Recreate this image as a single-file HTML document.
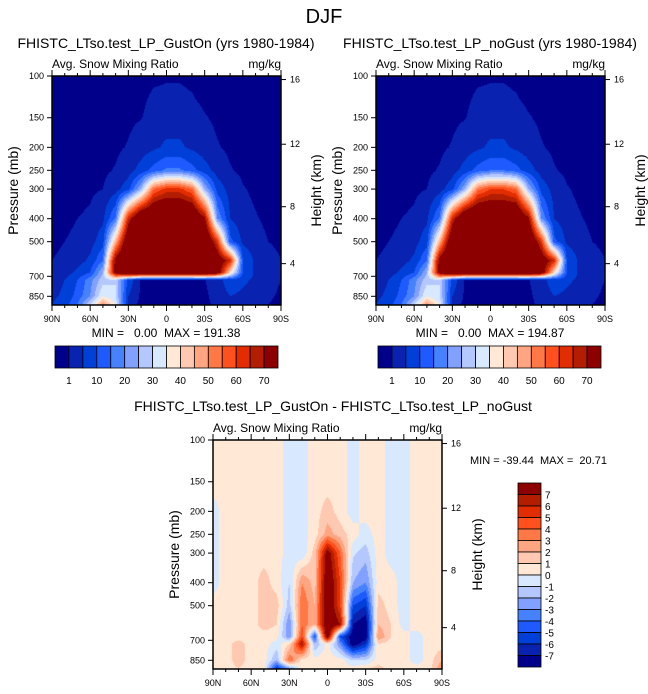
<!DOCTYPE html>
<html><head><meta charset="utf-8">
<style>
body{margin:0;background:#fff;width:648px;height:694px;position:relative;overflow:hidden;font-family:"Liberation Sans",sans-serif}
canvas{position:absolute}
svg{position:absolute;left:0;top:0}
text{white-space:pre}
</style></head>
<body>
<canvas id="c1" style="left:52px;top:76px" width="229" height="229"></canvas>
<canvas id="c2" style="left:376px;top:76px" width="229" height="229"></canvas>
<canvas id="c3" style="left:213px;top:440px" width="229" height="229"></canvas>
<svg id="ov" width="648" height="694"></svg>
<script>
const lats=[90,80,70,60,50,40,30,20,10,0,-10,-20,-30,-40,-50,-60,-70,-80,-90];
const pLevels=[100,125,150,200,250,300,400,500,600,675,725,850,925];
const gustOn=[
[0,0,0,0,0,0,0,0,0.5,0.8,0.8,0.5,0,0,0,0,0,0,0],
[0,0,0,0,0,0,0,0.5,1.5,1.5,1.5,1.2,0.5,0,0,0,0,0,0],
[0,0,0,0,0,0,0.5,0.9,2,2.5,2.5,2,1.2,0.5,0,0,0,0,0],
[0,0,0,0,0,0.5,1.2,2.5,4,6,6,4,2.5,1.2,0.5,0,0,0,0],
[0,0,0,0,0.5,1.2,3,7,12,16,16,12,7,3,1.2,0.5,0,0,0],
[0,0,0,0.5,1,3,8,25,55,62,62,55,25,8,3,1.2,0.5,0,0],
[0,0.5,1,1.5,4,16,65,88,90,90,90,88,72,20,5,2,1.2,0.5,0.5],
[0.5,1,1.5,3,8,45,85,90,90,90,90,90,88,62,12,4,2,1,0.5],
[1,1.5,3,6,15,75,90,90,90,90,90,90,90,80,65,10,4,2,1],
[1.5,3,6,10,25,75,90,90,90,90,90,90,90,80,40,10,4,2,1],
[3,5,10,18,28,30,8,0.5,0.3,0.3,0.3,0.5,0.8,3,8,6,4,2,1],
[4,6,12,20,35,30,5,0.3,0,0,0,0,0.5,2,5,4,3,1.5,0.5],
[5,8,15,30,50,35,3,0,0,0,0,0,0.5,1.5,3,3,2,1,0]];
const noGust=[
[0,0,0,0,0,0,0,0,0.5,0.8,0.8,0.5,0,0,0,0,0,0,0],
[0,0,0,0,0,0,0,0.5,1.5,1.5,1.5,1.2,0.5,0,0,0,0,0,0],
[0,0,0,0,0,0,0.5,0.9,2,2.5,2.5,2,1.2,0.5,0,0,0,0,0],
[0,0,0,0,0,0.5,1.2,2.5,4,6,6,4,2.5,1.2,0.5,0,0,0,0],
[0,0,0,0,0.5,1.2,3,7,12,15,15,12,7,3,1.2,0.5,0,0,0],
[0,0,0,0.5,1,3,8,25,53,60,60,55,25,8,3,1.2,0.5,0,0],
[0,0.5,1,1.5,4,16,65,88,90,88,88,88,72,20,5,2,1.2,0.5,0.5],
[0.5,1,1.5,3,8,45,85,90,90,90,90,90,88,62,12,4,2,1,0.5],
[1,1.5,3,6,15,75,90,90,90,90,90,90,90,80,65,10,4,2,1],
[1.5,3,6,10,25,75,90,90,90,90,90,90,90,80,40,10,4,2,1],
[3,5,10,18,28,30,8,0.5,0.3,0.3,0.3,0.5,0.8,3,8,6,4,2,1],
[4,6,12,20,35,30,5,0.3,0,0,0,0,0.5,2,5,4,3,1.5,0.5],
[5,8,15,30,50,35,3,0,0,0,0,0,0.5,1.5,3,3,2,1,0]];
const diffVals=[
[0.5,0.5,0.5,0.5,0.5,0.5,-0.5,-0.5,0.5,0.5,0.5,-0.5,0.5,0.5,-0.5,-0.5,0.5,0.5,0.5],
[0.5,0.5,0.5,0.5,0.5,0.5,-0.5,-0.5,0.5,0.5,0.5,-0.5,0.5,0.5,-0.5,-0.5,0.5,0.5,0.5],
[0.5,0.5,0.5,0.5,0.5,0.5,-0.5,-0.5,0.5,0.5,0.5,-0.5,0.5,0.5,-0.5,-0.5,0.5,0.5,0.5],
[-0.5,0.5,0.5,0.5,0.5,0.5,-0.5,-0.5,0.5,1.5,0.5,-0.5,0.5,0.5,-0.5,-0.5,0.5,0.5,0.5],
[-0.5,0.5,0.5,0.5,0.5,0.5,-0.5,-0.5,0.5,2.5,1.5,0.5,-0.5,0.5,-0.5,-0.5,0.5,0.5,0.5],
[-0.5,0.5,0.5,0.5,0.5,0.5,-0.5,-0.8,1.5,8,4,-0.8,-1.5,0.5,-0.5,-0.5,0.5,0.5,0.5],
[-0.5,0.5,0.5,0.5,1.5,0.5,-1,3,1.5,9,5,-2,-3,0.5,0.5,-0.5,0.5,0.5,0.5],
[0.5,0.5,0.5,0.5,1.5,1.5,-1.5,4,2,9,5,-5,-6,1.5,0.5,-0.5,0.5,0.5,0.5],
[0.5,0.5,0.5,0.5,1.5,1,-3,4,2,9,7,-7,-8,2,1,-0.5,0.5,0.5,0.5],
[0.5,0.5,0.5,0.5,0.5,0.5,-3,5,-5,9,-5,-8,-8,3,1,0.5,-0.5,0.5,0.5],
[0.5,0.5,1.5,0.5,0.5,-0.5,1,7,-2,0.5,-3,-8,-6,1,0.5,0.5,-0.5,0.5,0.5],
[0.5,0.5,1.5,0.5,0.5,-2,4,0.5,0.5,0.5,0.5,-1,-1,0.5,0.5,0.5,-0.5,0.5,2],
[0.5,0.5,1,0.5,0.5,-6,-3,0.5,0.5,0.5,0.5,0.5,1,1.5,0.5,0.5,0.5,0.5,3]];
const topLevels=[1,5,10,15,20,25,30,35,40,45,50,55,60,65,70];
const topLevelLabels=["1","10","20","30","40","50","60","70"];
const diffLevels=[-7,-6,-5,-4,-3,-2,-1,0,1,2,3,4,5,6,7];
const diffLevelLabels=["7","6","5","4","3","2","1","0","-1","-2","-3","-4","-5","-6","-7"];
const pTicks=[100,150,200,250,300,400,500,700,850];
const hTickKm=[16,12,8,4];
const hTickP=[103.5,194,356,619];
const latTicks=[90,60,30,0,-30,-60,-90];
const latTickLabels=["90N","60N","30N","0","30S","60S","90S"];
const palette=['#00008b','#0a22b0','#0040d8','#1e5aff','#4682ff','#82a0ff','#b4c8ff','#d7e8ff','#ffe8d6','#ffc8b0','#ffa582','#ff7846','#ff501e','#e12d00','#b41e00','#8c0000'];

const PT=100,PB=925,W=229,H=229;
const yOfP=p=>Math.log(p/PT)/Math.log(PB/PT)*H;
const xOfLat=l=>(90-l)/180*W;

function sample(grid,lat,p){
  let fi=(90-lat)/10; let i0=Math.min(Math.floor(fi),lats.length-2); let tx=fi-i0;
  let lp=Math.log(p),j0=0;
  while(j0<pLevels.length-2&&Math.log(pLevels[j0+1])<lp)j0++;
  let ty=(lp-Math.log(pLevels[j0]))/(Math.log(pLevels[j0+1])-Math.log(pLevels[j0]));
  ty=Math.max(0,Math.min(1,ty));
  const a=grid[j0][i0],b=grid[j0][i0+1],c=grid[j0+1][i0],d=grid[j0+1][i0+1];
  return (a*(1-tx)+b*tx)*(1-ty)+(c*(1-tx)+d*tx)*ty;
}
function hex(h){return [parseInt(h.substr(1,2),16),parseInt(h.substr(3,2),16),parseInt(h.substr(5,2),16)];}
const pal=palette.map(hex);
function drawField(id,grid,levels){
  const cv=document.getElementById(id),ctx=cv.getContext('2d');
  const img=ctx.createImageData(W,H);
  for(let y=0;y<H;y++){
    const p=PT*Math.pow(PB/PT,(y+0.5)/H);
    for(let x=0;x<W;x++){
      const lat=90-180*(x+0.5)/W;
      const v=sample(grid,lat,p);
      let k=0;while(k<levels.length&&v>=levels[k])k++;
      const c=pal[k],o=(y*W+x)*4;
      img.data[o]=c[0];img.data[o+1]=c[1];img.data[o+2]=c[2];img.data[o+3]=255;
    }
  }
  ctx.putImageData(img,0,0);
}
drawField('c1',gustOn,topLevels);
drawField('c2',noGust,topLevels);
drawField('c3',diffVals,diffLevels);

const NS='http://www.w3.org/2000/svg',ov=document.getElementById('ov');
function el(t,a,txt){const e=document.createElementNS(NS,t);for(const k in a)e.setAttribute(k,a[k]);if(txt!==undefined)e.textContent=txt;ov.appendChild(e);return e;}
function text(x,y,s,size,anchor,name,extra){
  const e=el('text',Object.assign({x:x,y:y,'font-size':size,'text-anchor':anchor||'start',fill:'#000'},extra||{}),s);
  
  
  return e;
}
function axes(x0,y0,pre){
  const fr=el('rect',{x:x0,y:y0,width:W,height:H,fill:'none',stroke:'#000','stroke-width':1.5});
  
  
  pTicks.forEach(p=>{const y=y0+yOfP(p);
    el('line',{x1:x0-5,x2:x0,y1:y,y2:y,stroke:'#000','stroke-width':1});
    text(x0-8,y+3,String(p),9,'end',pre+'-pressure-tick-label');});
  for(let l=90;l>=-90;l-=10){const x=x0+xOfLat(l);const major=l%30===0;
    el('line',{x1:x,x2:x,y1:y0+H,y2:y0+H+(major?6:3),stroke:'#000','stroke-width':1});
    el('line',{x1:x,x2:x,y1:y0,y2:y0-(major?6:3),stroke:'#000','stroke-width':1});}
  latTicks.forEach((l,i)=>text(x0+xOfLat(l),y0+H+17,latTickLabels[i],9,'middle',pre+'-latitude-tick-label'));
  hTickP.forEach((p,i)=>{const y=y0+yOfP(p);
    el('line',{x1:x0+W,x2:x0+W+5,y1:y,y2:y,stroke:'#000','stroke-width':1});
    text(x0+W+9,y+3,String(hTickKm[i]),9,'start',pre+'-height-tick-label');});
  text(x0,y0-8,'Avg. Snow Mixing Ratio',12,'start',pre+'-variable-label');
  text(x0+W,y0-8,'mg/kg',12,'end',pre+'-units-label');
  const yl=y0+H/2;
  text(0,0,'Pressure (mb)',14,'middle',pre+'-y-axis-title',{transform:`translate(${x0-34},${yl}) rotate(-90)`});
  text(0,0,'Height (km)',14,'middle',pre+'-right-axis-title',{transform:`translate(${x0+W+40},${yl}) rotate(-90)`});
}
text(324,23,'DJF',20,'middle','figure-title');
text(166,48,'FHISTC_LTso.test_LP_GustOn (yrs 1980-1984)',14,'middle','gust-on-title');
text(490,48,'FHISTC_LTso.test_LP_noGust (yrs 1980-1984)',14,'middle','no-gust-title');
axes(52,76,'gust-on');axes(376,76,'no-gust');axes(213,440,'difference');
text(166,337,'MIN =   0.00  MAX = 191.38',12,'middle','gust-on-min-max');
text(490,337,'MIN =   0.00  MAX = 194.87',12,'middle','no-gust-min-max');
text(333,411,'FHISTC_LTso.test_LP_GustOn - FHISTC_LTso.test_LP_noGust',14,'middle','difference-title');
text(470,464,'MIN = -39.44  MAX =  20.71',11,'start','difference-min-max');

function hbar(x0,y0,pre){
  const bw=223/16;
  palette.forEach((c,i)=>{const r=el('rect',{x:x0+i*bw,y:y0,width:bw,height:22,fill:c,stroke:'#000','stroke-width':0.8});
    
    });
  topLevelLabels.forEach((s,i)=>text(x0+(1+2*i)*bw,y0+38,s,10,'middle',pre+'-colorbar-label'));
}
hbar(55,346,'gust-on');hbar(378,346,'no-gust');
const bh=184/16;
palette.slice().reverse().forEach((c,i)=>{const r=el('rect',{x:518,y:483+i*bh,width:23,height:bh,fill:c,stroke:'#000','stroke-width':0.8});
  
  });
diffLevelLabels.forEach((s,i)=>text(545,483+(i+1)*bh+4,s,10,'start','difference-colorbar-label'));
</script>
</body></html>
